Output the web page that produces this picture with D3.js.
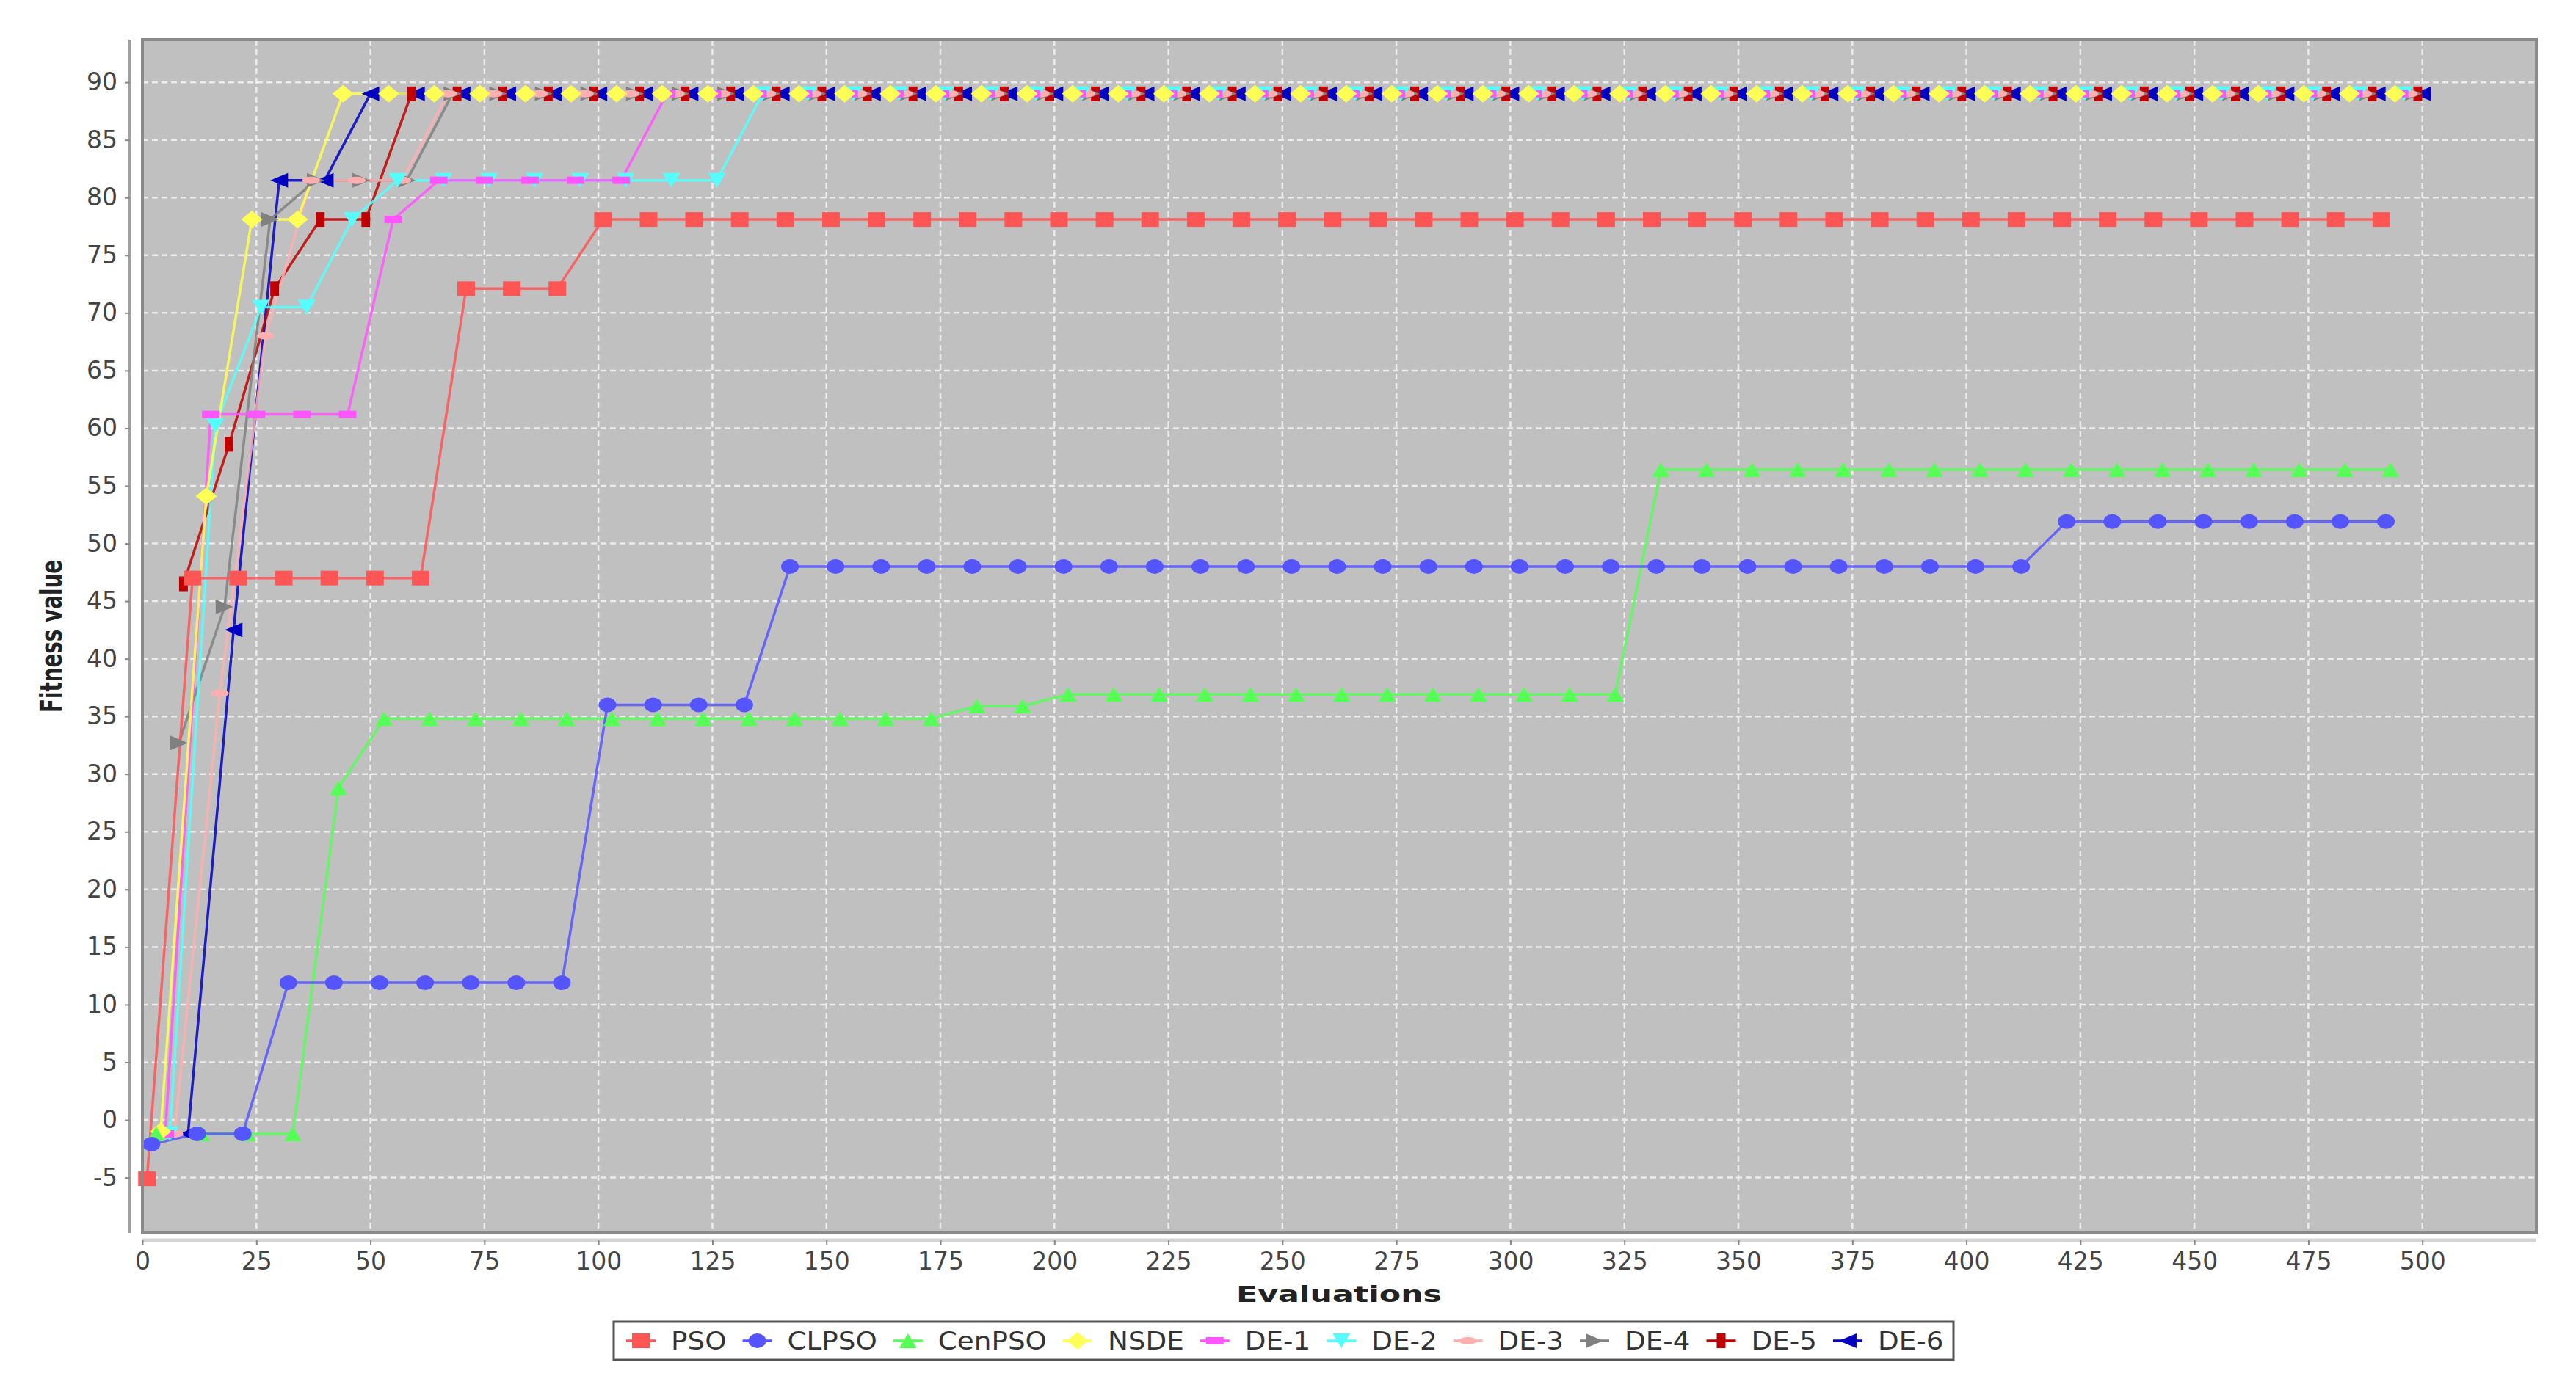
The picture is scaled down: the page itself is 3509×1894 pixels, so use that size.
<!DOCTYPE html>
<html>
<head>
<meta charset="utf-8">
<script src="https://cdn.jsdelivr.net/npm/d3@7"></script>
<style>
  body { margin: 0; background: #fff; }
  svg { display: block; }
  text { font-family: "DejaVu Sans", sans-serif; }
</style>
</head>
<body>
<svg id="chart" width="3509" height="1894"></svg>
<script>
// Series names and colours (JFreeChart default paint sequence)
const seriesNames = ["PSO", "CLPSO", "CenPSO", "NSDE", "DE-1", "DE-2", "DE-3", "DE-4", "DE-5", "DE-6"];
const seriesColors = ["#ff5555", "#5555ff", "#55ff55", "#ffff55", "#ff55ff", "#55ffff", "#ffafaf", "#808080", "#c00000", "#0000c0"];
const seriesShapes = ["square", "circle", "triUp", "diamond", "hRect", "triDown", "hEllipse", "triRight", "vRect", "triLeft"];

// every series is sampled every 10 evaluations, shifted by its own offset
const baseEvals = [0, 10, 20, 30, 40, 50, 60, 70, 80, 90, 100, 110, 120, 130, 140, 150, 160, 170, 180, 190,
  200, 210, 220, 230, 240, 250, 260, 270, 280, 290, 300, 310, 320, 330, 340, 350, 360, 370, 380, 390,
  400, 410, 420, 430, 440, 450, 460, 470, 480, 490];
const evalOffsets = [1, 2, 3, 4, 5, 6, 7, 8, 9, 10];

const psoValues = [-5.1, 47, 47, 47, 47, 47, 47, 72.1, 72.1, 72.1,
  78.1, 78.1, 78.1, 78.1, 78.1, 78.1, 78.1, 78.1, 78.1, 78.1, 78.1, 78.1, 78.1, 78.1, 78.1, 78.1, 78.1, 78.1, 78.1, 78.1,
  78.1, 78.1, 78.1, 78.1, 78.1, 78.1, 78.1, 78.1, 78.1, 78.1, 78.1, 78.1, 78.1, 78.1, 78.1, 78.1, 78.1, 78.1, 78.1, 78.1];
const clpsoValues = [-2.1, -1.2, -1.2, 11.9, 11.9, 11.9, 11.9, 11.9, 11.9, 11.9,
  36, 36, 36, 36, 48, 48, 48, 48, 48, 48, 48, 48, 48, 48, 48, 48, 48, 48, 48, 48,
  48, 48, 48, 48, 48, 48, 48, 48, 48, 48, 48, 48, 51.9, 51.9, 51.9, 51.9, 51.9, 51.9, 51.9, 51.9];
const cenpsoValues = [-1.2, -1.2, -1.2, -1.2, 28.8, 34.8, 34.8, 34.8, 34.8, 34.8,
  34.8, 34.8, 34.8, 34.8, 34.8, 34.8, 34.8, 34.8, 35.9, 35.9, 36.9, 36.9, 36.9, 36.9, 36.9, 36.9, 36.9, 36.9, 36.9, 36.9,
  36.9, 36.9, 36.9, 56.4, 56.4, 56.4, 56.4, 56.4, 56.4, 56.4, 56.4, 56.4, 56.4, 56.4, 56.4, 56.4, 56.4, 56.4, 56.4, 56.4];
const nsdeValues = [-1.0, 54.1, 78.1, 78.1, 89, 89, 89, 89, 89, 89,
  89, 89, 89, 89, 89, 89, 89, 89, 89, 89, 89, 89, 89, 89, 89, 89, 89, 89, 89, 89,
  89, 89, 89, 89, 89, 89, 89, 89, 89, 89, 89, 89, 89, 89, 89, 89, 89, 89, 89, 89];
const de1Values = [-1.2, 61.2, 61.2, 61.2, 61.2, 78.1, 81.5, 81.5, 81.5, 81.5,
  81.5, 89, 89, 89, 89, 89, 89, 89, 89, 89, 89, 89, 89, 89, 89, 89, 89, 89, 89, 89,
  89, 89, 89, 89, 89, 89, 89, 89, 89, 89, 89, 89, 89, 89, 89, 89, 89, 89, 89, 89];
const de2Values = [-1.2, 60.2, 70.5, 70.5, 78.1, 81.5, 81.5, 81.5, 81.5, 81.5,
  81.5, 81.5, 81.5, 89, 89, 89, 89, 89, 89, 89, 89, 89, 89, 89, 89, 89, 89, 89, 89, 89,
  89, 89, 89, 89, 89, 89, 89, 89, 89, 89, 89, 89, 89, 89, 89, 89, 89, 89, 89, 89];
const de3Values = [-1.2, 37, 68, 81.5, 81.5, 81.5, 89, 89, 89, 89,
  89, 89, 89, 89, 89, 89, 89, 89, 89, 89, 89, 89, 89, 89, 89, 89, 89, 89, 89, 89,
  89, 89, 89, 89, 89, 89, 89, 89, 89, 89, 89, 89, 89, 89, 89, 89, 89, 89, 89, 89];
const de4Values = [32.7, 44.5, 78.1, 81.5, 81.5, 81.5, 89, 89, 89, 89,
  89, 89, 89, 89, 89, 89, 89, 89, 89, 89, 89, 89, 89, 89, 89, 89, 89, 89, 89, 89,
  89, 89, 89, 89, 89, 89, 89, 89, 89, 89, 89, 89, 89, 89, 89, 89, 89, 89, 89, 89];
const de5Values = [46.5, 58.6, 72.1, 78.1, 78.1, 89, 89, 89, 89, 89,
  89, 89, 89, 89, 89, 89, 89, 89, 89, 89, 89, 89, 89, 89, 89, 89, 89, 89, 89, 89,
  89, 89, 89, 89, 89, 89, 89, 89, 89, 89, 89, 89, 89, 89, 89, 89, 89, 89, 89, 89];
const de6Values = [-1.2, 42.5, 81.5, 81.5, 89, 89, 89, 89, 89, 89,
  89, 89, 89, 89, 89, 89, 89, 89, 89, 89, 89, 89, 89, 89, 89, 89, 89, 89, 89, 89,
  89, 89, 89, 89, 89, 89, 89, 89, 89, 89, 89, 89, 89, 89, 89, 89, 89, 89, 89, 89];

const xTicks = [0, 25, 50, 75, 100, 125, 150, 175, 200, 225, 250, 275, 300, 325, 350, 375, 400, 425, 450, 475, 500];
const yTicks = [-5, 0, 5, 10, 15, 20, 25, 30, 35, 40, 45, 50, 55, 60, 65, 70, 75, 80, 85, 90];

const allValues = [psoValues, clpsoValues, cenpsoValues, nsdeValues, de1Values, de2Values,
  de3Values, de4Values, de5Values, de6Values];

const series = seriesNames.map((name, i) => ({
  name: name,
  color: seriesColors[i],
  shape: seriesShapes[i],
  points: baseEvals.map((e, k) => ({ x: e + evalOffsets[i], y: allValues[i][k] }))
}));

// layout
const plot = { left: 194, right: 3455, top: 54, bottom: 1680 };

const svg = d3.select("#chart");
svg.append("rect").attr("width", 3509).attr("height", 1894).attr("fill", "#fff");

const x = d3.scaleLinear().domain([0, 525]).range([plot.left, plot.right]);
const y = d3.scaleLinear().domain([-9.8, 93.7]).range([plot.bottom, plot.top]);

// plot background
svg.append("rect")
  .attr("x", plot.left).attr("y", plot.top)
  .attr("width", plot.right - plot.left).attr("height", plot.bottom - plot.top)
  .attr("fill", "#c0c0c0");

// grid lines
const grid = svg.append("g").attr("stroke", "#ececec").attr("stroke-width", 2.5).attr("stroke-dasharray", "8 5");
grid.selectAll(".vgrid").data(xTicks).enter().append("line")
  .attr("x1", d => x(d)).attr("x2", d => x(d))
  .attr("y1", plot.top).attr("y2", plot.bottom);
grid.selectAll(".hgrid").data(yTicks).enter().append("line")
  .attr("x1", plot.left).attr("x2", plot.right)
  .attr("y1", d => y(d)).attr("y2", d => y(d));

// marker shapes, a = half width, b = half height
function shapePath(type, a, b) {
  switch (type) {
    case "square": return `M${-a},${-b}H${a}V${b}H${-a}Z`;
    case "circle": return `M${-a},0A${a},${b} 0 1 0 ${a},0A${a},${b} 0 1 0 ${-a},0Z`;
    case "triUp": return `M0,${-b}L${a},${b}L${-a},${b}Z`;
    case "diamond": return `M0,${-b * 1.2}L${a * 1.2},0L0,${b * 1.2}L${-a * 1.2},0Z`;
    case "hRect": return `M${-a},${-b / 2}H${a}V${b / 2}H${-a}Z`;
    case "triDown": return `M${-a},${-b}L${a},${-b}L0,${b}Z`;
    case "hEllipse": return `M${-a},0A${a},${b / 2} 0 1 0 ${a},0A${a},${b / 2} 0 1 0 ${-a},0Z`;
    case "triRight": return `M${-a},${-b}L${a},0L${-a},${b}Z`;
    case "vRect": return `M${-a / 2},${-b}H${a / 2}V${b}H${-a / 2}Z`;
    case "triLeft": return `M${-a},0L${a},${-b}L${a},${b}Z`;
  }
}

const line = d3.line().x(d => x(d.x)).y(d => y(d.y));
const drawOrder = series.slice().reverse();

// pass 1: lines, pass 2: shapes (last series first, like JFreeChart)
const lineLayer = svg.append("g");
drawOrder.forEach(s => {
  lineLayer.append("path")
    .datum(s.points)
    .attr("d", line)
    .attr("fill", "none")
    .attr("stroke", s.color)
    .attr("stroke-opacity", 0.85)
    .attr("stroke-width", 3.5);
});

const shapeLayer = svg.append("g");
drawOrder.forEach(s => {
  shapeLayer.append("g").selectAll("path")
    .data(s.points)
    .enter().append("path")
    .attr("transform", d => `translate(${x(d.x)},${y(d.y)})`)
    .attr("d", shapePath(s.shape, 12, 10))
    .attr("fill", s.color);
});

// plot outline
svg.append("rect")
  .attr("x", plot.left).attr("y", plot.top)
  .attr("width", plot.right - plot.left).attr("height", plot.bottom - plot.top)
  .attr("fill", "none").attr("stroke", "#8a8a8a").attr("stroke-width", 4);

// y axis
const yAxis = svg.append("g")
  .attr("transform", `translate(177,0)`)
  .call(d3.axisLeft(y).tickValues(yTicks).tickSize(7).tickPadding(10).tickFormat(d => String(d)));
yAxis.select(".domain").attr("stroke", "#a0a0a0").attr("stroke-width", 4)
  .attr("d", `M0,${plot.top}V${plot.bottom}`);
yAxis.selectAll(".tick line").attr("stroke", "#888").attr("stroke-width", 2);
yAxis.selectAll(".tick text").attr("fill", "#444").style("font-size", "33px");

// x axis
const xAxis = svg.append("g")
  .attr("transform", `translate(0,1690)`)
  .call(d3.axisBottom(x).tickValues(xTicks).tickSize(6).tickPadding(11).tickFormat(d => String(d)));
xAxis.select(".domain").attr("stroke", "#d4d4d4").attr("stroke-width", 5)
  .attr("d", `M${plot.left},0H${plot.right}`);
xAxis.selectAll(".tick line").attr("stroke", "#888").attr("stroke-width", 2);
xAxis.selectAll(".tick text").attr("fill", "#444").style("font-size", "33px");

// axis titles
svg.append("text")
  .attr("x", 1824).attr("y", 1774)
  .attr("text-anchor", "middle")
  .attr("textLength", 280).attr("lengthAdjust", "spacingAndGlyphs")
  .style("font-size", "31px").style("font-weight", "bold").attr("fill", "#222")
  .text("Evaluations");

svg.append("text")
  .attr("transform", "translate(84,867) rotate(-90)")
  .attr("text-anchor", "middle")
  .attr("textLength", 208).attr("lengthAdjust", "spacingAndGlyphs")
  .style("font-size", "40px").style("font-weight", "bold").attr("fill", "#222")
  .text("Fitness value");

// legend
const legendBox = { left: 836, right: 2661, top: 1801, bottom: 1853 };
const legend = svg.append("g");
legend.append("rect")
  .attr("x", legendBox.left).attr("y", legendBox.top)
  .attr("width", legendBox.right - legendBox.left).attr("height", legendBox.bottom - legendBox.top)
  .attr("fill", "#fff").attr("stroke", "#555").attr("stroke-width", 3);

const legendItems = legend.append("g");
const stretch = 1.13;
const markerGap = 41, itemGap = 42;
let cursor = 0;
const midY = (legendBox.top + legendBox.bottom) / 2;
series.forEach(s => {
  const item = legendItems.append("g");
  const mx = cursor;
  item.append("line")
    .attr("x1", mx - 20).attr("x2", mx + 20).attr("y1", midY).attr("y2", midY)
    .attr("stroke", s.color).attr("stroke-width", 3.5);
  item.append("path")
    .attr("transform", `translate(${mx},${midY})`)
    .attr("d", shapePath(s.shape, 12, 10))
    .attr("fill", s.color);
  const t = item.append("text")
    .attr("transform", `translate(${mx + markerGap},${midY + 12}) scale(${stretch},1)`)
    .style("font-size", "33px").attr("fill", "#333")
    .text(s.name);
  const w = t.node().getComputedTextLength() * stretch;
  cursor = mx + markerGap + w + itemGap;
});
// first marker sits 37px from the left edge of the box
legendItems.attr("transform", `translate(${legendBox.left + 37},0)`);
</script>
</body>
</html>
